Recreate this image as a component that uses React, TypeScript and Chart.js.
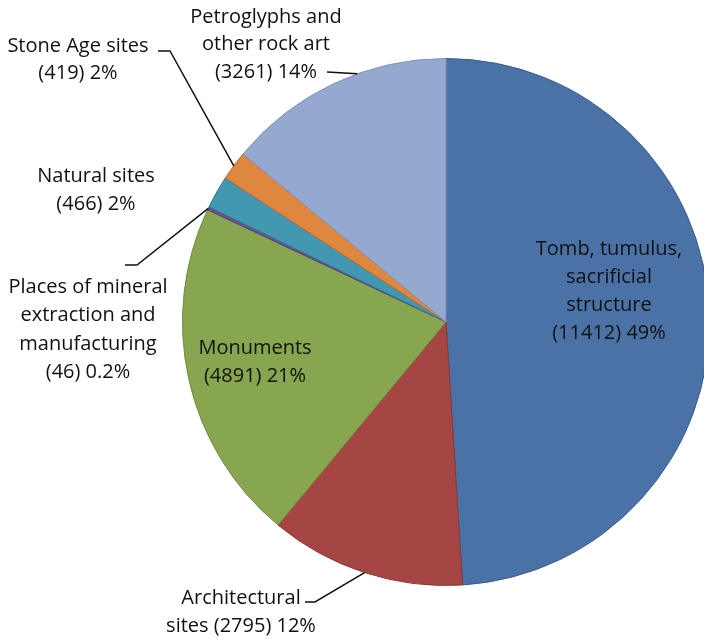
import React, { useEffect, useRef } from "react";
import { Chart, registerables } from "chart.js";

Chart.register(...registerables);

const categories = [
  "Tomb, tumulus, sacrificial structure",
  "Architectural sites",
  "Monuments",
  "Places of mineral extraction and manufacturing",
  "Natural sites",
  "Stone Age sites",
  "Petroglyphs and other rock art",
];
const counts = [11412, 2795, 4891, 46, 466, 419, 3261];
const percentLabels = ["49%", "12%", "21%", "0.2%", "2%", "2%", "14%"];
const labelLines = [
  ["Tomb, tumulus,", "sacrificial", "structure", "(11412) 49%"],
  ["Architectural", "sites (2795) 12%"],
  ["Monuments", "(4891) 21%"],
  ["Places of mineral", "extraction and", "manufacturing", "(46) 0.2%"],
  ["Natural sites", "(466) 2%"],
  ["Stone Age sites", "(419) 2%"],
  ["Petroglyphs and", "other rock art", "(3261) 14%"],
];

const fillColors = ["#4a72a6", "#a64644", "#88a64f", "#6b4f8f", "#4298b1", "#df863f", "#95a9d0"];
const borderColors = ["#3a5d8c", "#8a3634", "#6f8a3e", "#55407a", "#327a90", "#b86a2e", "#7f93bb"];

// label layout: centre x, first line y, line height, leader (pie fraction t, elbow points)
const layout = [
  { x: 609, y: 249, lh: 28, leader: null },
  { x: 241, y: 598, lh: 28, leader: { t: 0.5, pts: [[305, 602], [315, 602]] } },
  { x: 255, y: 348, lh: 28, leader: null },
  { x: 88, y: 287, lh: 28.5, leader: { t: 0.5, pts: [[125, 265], [137, 265]] } },
  { x: 96, y: 176, lh: 28, leader: null },
  { x: 78, y: 46, lh: 27, leader: { t: 0.5, pts: [[158, 51], [170, 51]] } },
  { x: 266, y: 17, lh: 27.5, leader: { t: 0.61, pts: [[327, 72]] } },
];

const FONT = "20px 'Open Sans', sans-serif";

const labelPlugin = {
  id: "pieLabels",
  afterDraw(chart: any) {
    const ctx = chart.ctx;
    const meta = chart.getDatasetMeta(0);
    ctx.save();
    ctx.font = FONT;
    ctx.fillStyle = "#111";
    ctx.textAlign = "center";
    ctx.textBaseline = "middle";
    layout.forEach((L, i) => {
      labelLines[i].forEach((line, k) => {
        ctx.fillText(line, L.x, L.y + k * L.lh);
      });
      if (L.leader) {
        const arc = meta.data[i];
        const a = arc.startAngle + L.leader.t * (arc.endAngle - arc.startAngle);
        const r = arc.outerRadius;
        const px = arc.x + Math.cos(a) * r;
        const py = arc.y + Math.sin(a) * r;
        ctx.beginPath();
        ctx.strokeStyle = "#111";
        ctx.lineWidth = 1.5;
        const pts = L.leader.pts;
        ctx.moveTo(pts[0][0], pts[0][1]);
        for (let j = 1; j < pts.length; j++) ctx.lineTo(pts[j][0], pts[j][1]);
        ctx.lineTo(px, py);
        ctx.stroke();
      }
    });
    ctx.restore();
  },
};

export default function App() {
  const ref = useRef<HTMLCanvasElement>(null);
  useEffect(() => {
    if (!ref.current) return;
    const chart = new Chart(ref.current, {
      type: "pie",
      data: {
        labels: categories,
        datasets: [
          {
            data: counts,
            backgroundColor: fillColors,
            borderColor: borderColors,
            borderWidth: 1,
          },
        ],
      },
      options: {
        responsive: false,
        animation: false,
        layout: { padding: { left: 182, right: 10, top: 58, bottom: 53 } },
        plugins: {
          legend: { display: false },
          tooltip: { enabled: false },
        },
      },
      plugins: [labelPlugin],
    });
    return () => chart.destroy();
  }, []);
  return (
    <div
      style={{
        position: "fixed",
        left: 0,
        top: 0,
        width: 704,
        height: 639,
        overflow: "hidden",
        background: "#fff",
      }}
    >
      <canvas ref={ref} width={720} height={639} style={{ width: 720, height: 639 }} />
    </div>
  );
}
